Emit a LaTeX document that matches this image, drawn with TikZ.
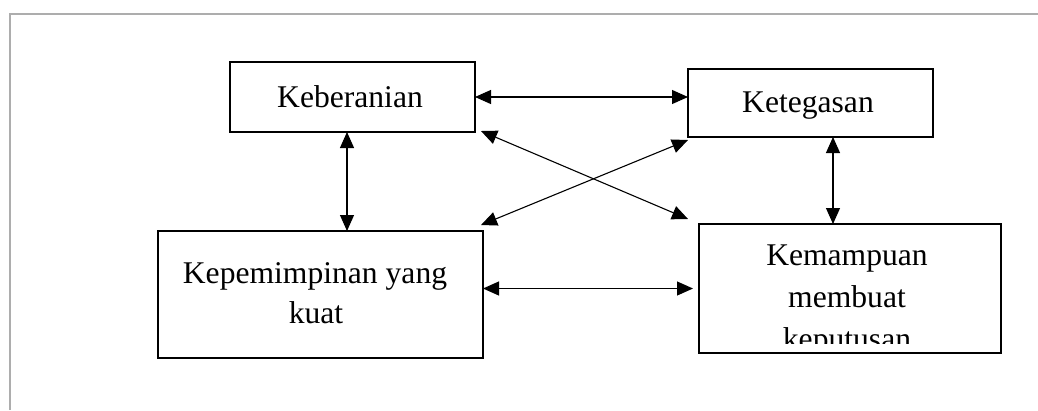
\documentclass[tikz,border=0pt]{standalone}
\usepackage{fontspec}
\setmainfont{Liberation Serif}
\usetikzlibrary{arrows.meta}
\begin{document}
\begin{tikzpicture}[x=1pt,y=-1pt,
  box/.style={draw=black,line width=2.2pt,inner sep=0pt,outer sep=0pt},
  lbl/.style={inner sep=0pt,outer sep=0pt,anchor=base,font=\fontsize{31.6}{41}\selectfont},
  arr/.style={line width=1.1pt,{Triangle[length=16pt,width=14pt]}-{Triangle[length=16pt,width=14pt]}},
  frame/.style={draw=black!32,line width=2.5pt}]
\useasboundingbox (0,0) rectangle (1038,410);
\draw[frame] (10,410) -- (10,14) -- (1038,14);
% boxes
\node[box,minimum width=245pt,minimum height=70pt] (keb) at (352.5,97) {};
\node[box,minimum width=245pt,minimum height=68pt] (teg) at (810.5,103) {};
\node[box,minimum width=325pt,minimum height=127pt] (kep) at (320.5,294.5) {};
\node[box,minimum width=302pt,minimum height=129pt] (kem) at (850,288.5) {};
% labels
\node[lbl] (kebT) at (350,107) {Keberanian};
\node[lbl] (tegT) at (808,112) {Ketegasan};
\node[lbl] (kepA) at (315,283) {Kepemimpinan yang};
\node[lbl] (kepB) at (316,323) {kuat};
\begin{scope}
\clip (699,224) rectangle (1001,343);
\node[lbl] (kemA) at (847,265) {Kemampuan};
\node[lbl] (kemB) at (847,307) {membuat};
\node[lbl] (kemC) at (847,349) {keputusan};
\end{scope}
% connectors
\draw[arr] (keb.east) -- (keb.east -| teg.west);
\draw[arr] ([xshift=-5.5pt]keb.south) -- ([xshift=-5.5pt]keb.south |- kep.north);
\draw[arr] ([xshift=22.5pt]teg.south) -- ([xshift=22.5pt]teg.south |- kem.north);
\draw[arr] (kem.west -| kep.east) -- ([xshift=-6pt]kem.west);
\draw[arr] ([shift={(6pt,1pt)}]keb.south east) -- ([shift={(-11pt,5pt)}]kem.north west);
\draw[arr] ([shift={(0pt,-3pt)}]teg.south west) -- ([shift={(-2pt,6pt)}]kep.north east);
\end{tikzpicture}
\end{document}
